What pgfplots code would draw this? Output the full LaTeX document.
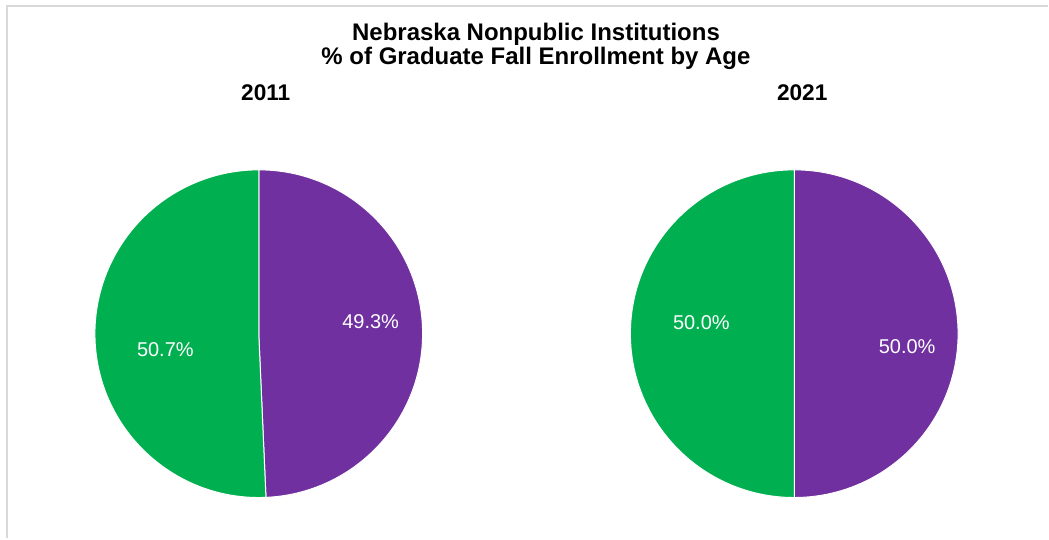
\documentclass[border=0pt]{standalone}
\usepackage{fontspec}
\setmainfont{Liberation Sans}
\usepackage{pgfplots}
\usepackage{pgfplotstable}
\pgfplotsset{compat=1.18}

\definecolor{piepurple}{HTML}{7030A0}
\definecolor{piegreen}{HTML}{00B050}
\definecolor{framegray}{HTML}{D9D9D9}

% share of each slice, in percent
\pgfplotstableread{
year first second
2011 49.3 50.7
2021 50.0 50.0
}\pietable

\pgfplotstablegetelem{0}{first}\of\pietable \edef\aFirst{\pgfplotsretval}
\pgfplotstablegetelem{0}{second}\of\pietable \edef\aSecond{\pgfplotsretval}
\pgfplotstablegetelem{1}{first}\of\pietable \edef\bFirst{\pgfplotsretval}
\pgfplotstablegetelem{1}{second}\of\pietable \edef\bSecond{\pgfplotsretval}

\begin{document}
\begin{tikzpicture}
\begin{axis}[
  width=786.75pt, height=404.25pt, scale only axis,
  xmin=0, xmax=1049, ymin=0, ymax=539, y dir=reverse,
  hide axis, clip=false]

  % whole canvas, then the frame
  \path (axis cs:0,0) rectangle (axis cs:1049,539);
  \draw[framegray, line width=1.5pt] (axis cs:7,539) -- (axis cs:7,6) -- (axis cs:1049,6);

  % titles
  \node[anchor=base, font=\bfseries\fontsize{18}{18}\selectfont]
    at (axis cs:536.5,41) {Nebraska Nonpublic Institutions};
  \node[anchor=base, font=\bfseries\fontsize{18}{18}\selectfont]
    at (axis cs:536.5,65) {\% of Graduate Fall Enrollment by Age};
  \node[anchor=base, font=\bfseries\fontsize{17}{17}\selectfont] at (axis cs:266,100.5) {2011};
  \node[anchor=base, font=\bfseries\fontsize{17}{17}\selectfont] at (axis cs:803,100.5) {2021};

  % pie 2011
  \fill[piepurple, draw=white, line width=0.75pt] (axis cs:259,334) -- ++(90:123pt)
    arc[start angle=90, end angle={90-3.6*\aFirst}, radius=123pt] -- cycle;
  \fill[piegreen, draw=white, line width=0.75pt] (axis cs:259,334) -- ++({90-3.6*\aFirst}:123pt)
    arc[start angle={90-3.6*\aFirst}, end angle=-270, radius=123pt] -- cycle;
  \node[anchor=base, white, font=\fontsize{15}{17}\selectfont] at (axis cs:371,328.5) {\aFirst\%};
  \node[anchor=base, white, font=\fontsize{15}{17}\selectfont] at (axis cs:165.5,356.5) {\aSecond\%};

  % pie 2021
  \fill[piepurple, draw=white, line width=0.75pt] (axis cs:795,334) -- ++(90:123pt)
    arc[start angle=90, end angle={90-3.6*\bFirst}, radius=123pt] -- cycle;
  \fill[piegreen, draw=white, line width=0.75pt] (axis cs:795,334) -- ++({90-3.6*\bFirst}:123pt)
    arc[start angle={90-3.6*\bFirst}, end angle=-270, radius=123pt] -- cycle;
  \node[anchor=base, white, font=\fontsize{15}{17}\selectfont] at (axis cs:702,329.5) {\bFirst\%};
  \node[anchor=base, white, font=\fontsize{15}{17}\selectfont] at (axis cs:908,354) {\bSecond\%};
\end{axis}
\end{tikzpicture}
\end{document}
